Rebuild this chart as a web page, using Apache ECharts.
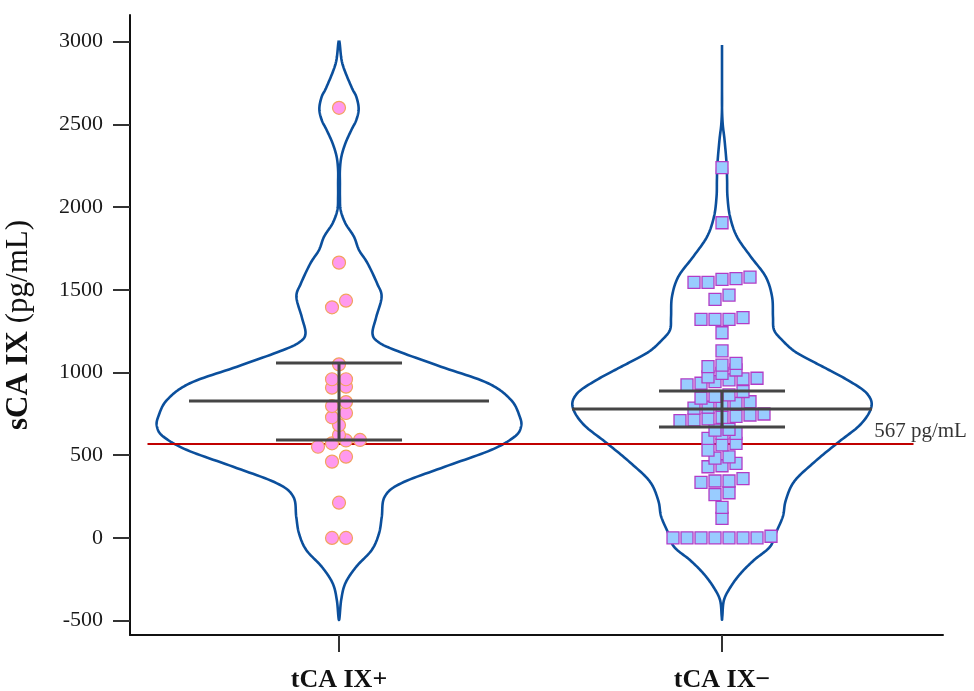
<!DOCTYPE html>
<html><head><meta charset="utf-8">
<script src="https://cdn.jsdelivr.net/npm/echarts@6/dist/echarts.min.js"></script>
<style>html,body{margin:0;padding:0;background:#fff}#c{width:974px;height:691px}</style>
</head><body><div id="c"></div>
<script>
// ---------- data ----------
const categories = ['tCA IX+', 'tCA IX\u2212'];
const yTickValues = [-500, 0, 500, 1000, 1500, 2000, 2500, 3000];

const posValues = [0, 0, 213, 461, 491, 551, 572, 589, 592, 622, 682, 729, 755, 797, 821,
  908, 914, 959, 959, 1049, 1394, 1434, 1664, 2600];
const negValues = [0, 0, 0, 0, 0, 0, 0, 10, 118, 185, 262, 273, 336, 344, 344, 358,
  430, 436, 450, 482, 490, 531, 562, 572, 602, 632, 632, 652, 656,
  709, 713, 720, 729, 735, 743, 749, 785, 791, 803, 813, 823, 845, 855, 864, 885,
  925, 935, 945, 955, 961, 965, 974, 995, 1015, 1035, 1045, 1055, 1130, 1240,
  1321, 1321, 1321, 1331, 1442, 1468, 1545, 1545, 1563, 1567, 1577, 1905, 2238];

const meanValues = [827, 779];
const ciLow = [592, 670];
const ciHigh = [1057, 888];

const cutoffValue = 567;
const cutoffLabel = '567 pg/mL';

// violin outlines: y value and relative density (width)
const violin1Y = [3005, 2869, 2727, 2667, 2594, 2526, 2466, 2385, 2304, 2224, 2143, 2063, 1982, 1902, 1821, 1740,
  1660, 1539, 1458, 1337, 1237, 1186, 1136, 1035, 935, 834, 733, 672, 612, 531, 430, 330, 249, 128, 28,
  -73, -174, -274, -375, -496];
const violin1D = [0, 0.018, 0.068, 0.095, 0.108, 0.095, 0.068, 0.035, 0.013, 0.005, 0.005, 0.005, 0.009, 0.035, 0.082, 0.110,
  0.157, 0.209, 0.234, 0.205, 0.184, 0.214, 0.306, 0.56, 0.819, 0.945, 0.993, 1.0, 0.965, 0.835, 0.581, 0.341, 0.251, 0.235, 0.22,
  0.18, 0.095, 0.035, 0.012, 0];
const violin2Y = [2980, 2850, 2720, 2600, 2500, 2405, 2264, 2163, 2063, 1942, 1821, 1700, 1579, 1458, 1337, 1257, 1196, 1130, 1075, 1015,
  942, 872, 793, 687, 572, 456, 340, 225, 132, 40, -53, -134, -214, -295, -375, -470, -495];
const violin2D = [0, 0, 0, 0, 0.004, 0.014, 0.025, 0.028, 0.030, 0.044, 0.082, 0.158, 0.240, 0.275, 0.280, 0.286, 0.330, 0.396, 0.484, 0.588,
  0.709, 0.797, 0.821, 0.762, 0.632, 0.505, 0.396, 0.350, 0.335, 0.300, 0.264, 0.176, 0.103, 0.048, 0.011, 0.002, 0];
const violinY = [violin1Y, violin2Y];
const violinD = [violin1D, violin2D];

// ---------- layout constants ----------
const X_MIN = 0.4543, X_MAX = 2.577;
const Y_MIN = -587, Y_MAX = 3161;
const VIOLIN_SCALE = 0.4752;
const SWARM_STEP = 0.03655;
const SWARM_THR = 45;
const MEAN_HW = 0.3916, CI_HW = 0.1645;
const FONT = "'Liberation Serif', 'Times New Roman', serif";

function swarm(values, center) {
  const s = values.slice().sort((a, b) => a - b);
  const out = [];
  let i = 0;
  while (i < s.length) {
    const start = s[i], row = [];
    while (i < s.length && s[i] - start <= SWARM_THR) { row.push(s[i]); i++; }
    row.forEach((v, k) => out.push([center + (k - (row.length - 1) / 2) * SWARM_STEP, v]));
  }
  return out;
}

// smooth closed outline (Catmull-Rom in pixel space)
function smoothClosed(pts, steps) {
  const n = pts.length, out = [];
  for (let i = 0; i < n; i++) {
    const p0 = pts[(i - 1 + n) % n], p1 = pts[i], p2 = pts[(i + 1) % n], p3 = pts[(i + 2) % n];
    for (let s = 0; s < steps; s++) {
      const t = s / steps, t2 = t * t, t3 = t2 * t;
      const f = (a, b, c, d) => 0.5 * ((2 * b) + (-a + c) * t + (2 * a - 5 * b + 4 * c - d) * t2 + (-a + 3 * b - 3 * c + d) * t3);
      out.push([f(p0[0], p1[0], p2[0], p3[0]), f(p0[1], p1[1], p2[1], p3[1])]);
    }
  }
  out.push(out[0]);
  return out;
}

const chart = echarts.init(document.getElementById('c'), null, { renderer: 'canvas' });
chart.setOption({
  animation: false,
  backgroundColor: '#fff',
  grid: { left: 130, right: 31, top: 15, bottom: 56, outerBoundsMode: 'none', containLabel: false },
  xAxis: {
    type: 'value', min: X_MIN, max: X_MAX, splitLine: { show: false },
    axisLine: { onZero: false, lineStyle: { color: '#111', width: 2 } },
    axisTick: { show: true, customValues: [1, 2], length: 17, lineStyle: { color: '#333', width: 2 } },
    axisLabel: { customValues: [1, 2], formatter: v => categories[Math.round(v) - 1], margin: 32,
      fontFamily: FONT, fontSize: 26, fontWeight: 'bold', color: '#111' }
  },
  yAxis: {
    type: 'value', min: Y_MIN, max: Y_MAX, splitLine: { show: false },
    axisLine: { show: true, onZero: false, lineStyle: { color: '#111', width: 2 } },
    axisTick: { show: true, customValues: yTickValues, length: 17, lineStyle: { color: '#333', width: 2 } },
    axisLabel: { customValues: yTickValues, formatter: v => String(Math.round(v)), margin: 27,
      fontFamily: FONT, fontSize: 22, color: '#1a1a1a' },
    name: '{b|sCA IX} {n|(pg/mL)}', nameLocation: 'middle', nameRotate: 90, nameGap: 96,
    nameTextStyle: { fontFamily: FONT, fontSize: 31, color: '#111',
      rich: { b: { fontFamily: FONT, fontSize: 31, fontWeight: 'bold', color: '#111' },
              n: { fontFamily: FONT, fontSize: 31, color: '#111' } } }
  },
  series: [
    { type: 'custom', z: 1, silent: true,
      renderItem: (params, api) => {
        const k = params.dataIndex, c = api.value(0);
        const ys = violinY[k], ds = violinD[k];
        const pts = [];
        for (let i = 0; i < ys.length; i++) pts.push(api.coord([c - ds[i] * VIOLIN_SCALE, ys[i]]));
        for (let i = ys.length - 2; i >= 1; i--) pts.push(api.coord([c + ds[i] * VIOLIN_SCALE, ys[i]]));
        return { type: 'polyline', shape: { points: smoothClosed(pts, 12) },
                 style: { stroke: '#0b4f9c', lineWidth: 2.6, fill: null, lineJoin: 'round' } };
      },
      data: categories.map((c, i) => [i + 1]) },
    { type: 'line', symbol: 'none', silent: true, z: 2,
      lineStyle: { color: '#c00000', width: 2 },
      data: [[0.5, cutoffValue], [2.5, cutoffValue]] },
    { type: 'scatter', symbolSize: 0, silent: true, z: 2,
      label: { show: true, position: 'top', distance: 2, offset: [7, 0], formatter: cutoffLabel,
        fontFamily: FONT, fontSize: 21, color: '#000' },
      data: [[2.5, cutoffValue]] },
    { type: 'scatter', symbol: 'circle', symbolSize: 13, z: 3,
      itemStyle: { color: '#ff99ee', borderColor: '#f2a35e', borderWidth: 1.2, opacity: 1 },
      data: swarm(posValues, 1) },
    { type: 'scatter', symbol: 'rect', symbolSize: 12, z: 3,
      itemStyle: { color: '#99ccff', borderColor: '#b23cc6', borderWidth: 1.3, opacity: 1 },
      data: swarm(negValues, 2) },
    { type: 'custom', z: 5, silent: true,
      renderItem: (params, api) => {
        const x = api.value(0), m = api.value(1), lo = api.value(2), hi = api.value(3);
        const seg = (x1, y1, x2, y2) => {
          const a = api.coord([x1, y1]), b = api.coord([x2, y2]);
          return { type: 'line', shape: { x1: a[0], y1: a[1], x2: b[0], y2: b[1] },
                   style: { stroke: '#454545', lineWidth: 3 } };
        };
        return { type: 'group', children: [
          seg(x - MEAN_HW, m, x + MEAN_HW, m),
          seg(x - CI_HW, hi, x + CI_HW, hi),
          seg(x - CI_HW, lo, x + CI_HW, lo),
          seg(x, lo, x, hi)
        ] };
      },
      data: categories.map((c, i) => [i + 1, meanValues[i], ciLow[i], ciHigh[i]])
    }
  ]
});
</script></body></html>
